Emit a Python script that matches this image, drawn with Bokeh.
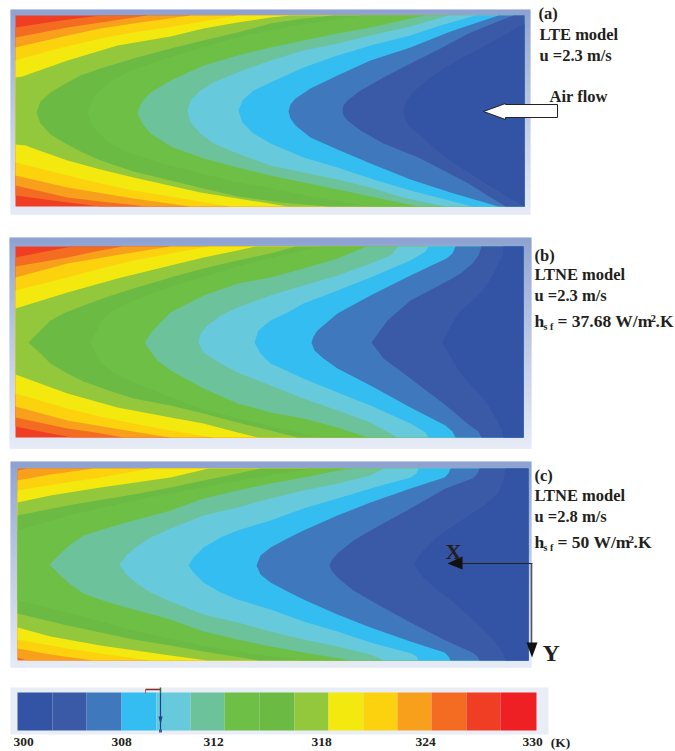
from bokeh.plotting import figure
from bokeh.embed import file_html
from bokeh.resources import INLINE
from bokeh.core.properties import value

# colour scale (temperature bands, coldest first)
band_colors = ["#3353a5", "#3a5aa8", "#3f78bd", "#33bdf0", "#67cadc", "#6cc29a", "#6dbf45", "#6aba44",
               "#93c83c", "#f3e90f", "#fcd20f", "#f8a01c", "#f36c21", "#ef3e23", "#ee2024"]
bar_edges = [17, 52, 86, 121, 156, 190, 224, 259, 294, 328, 363, 397, 431, 466, 500, 536]
tick_labels = ["300", "308", "312", "318", "324", "330", "(K)"]
tick_x = [23, 121, 213, 321, 425, 532, 560]

# Panel (a): isotherms, named by the colder band they enclose
a1_x = [524, 505, 485, 464, 445, 427, 418, 411, 407, 404, 403, 404, 407, 411, 418, 431, 445, 465, 485, 505, 524]
a1_y = [23, 34, 45, 56, 67, 79, 87, 93, 99, 105, 111, 117, 123, 128, 133, 145, 157, 170, 183, 195, 206]
a2_x = [513, 490, 468, 440, 410, 383, 360, 347, 343, 342, 343, 347, 360, 383, 418, 443, 468, 487, 505]
a2_y = [15, 24, 33, 48, 63, 77, 90, 100, 105, 110, 115, 120, 130, 143, 157, 170, 183, 195, 206]
a3_x = [498, 450, 410, 370, 337, 310, 295, 290, 288, 290, 295, 310, 337, 370, 410, 450, 498]
a3_y = [15, 31, 47, 60, 75, 88, 98, 104, 111, 118, 125, 137, 149, 163, 179, 192, 206]
a4_x = [475, 440, 410, 370, 337, 303, 270, 253, 242, 238, 242, 253, 270, 303, 337, 370, 410, 472]
a4_y = [15, 25, 35, 45, 55, 67, 82, 90, 100, 110, 122, 133, 143, 157, 167, 178, 190, 206]
a5_x = [448, 410, 370, 337, 303, 270, 237, 213, 200, 190, 187, 190, 200, 213, 237, 270, 303, 337, 370, 402, 445]
a5_y = [15, 26, 35, 43, 50, 60, 72, 82, 90, 100, 110, 122, 133, 143, 153, 165, 172, 179, 187, 197, 206]
a6_x = [425, 410, 370, 337, 303, 270, 237, 203, 170, 150, 141, 137, 141, 150, 170, 203, 237, 270, 303, 337, 370, 418]
a6_y = [15, 18, 27, 33, 40, 47, 55, 65, 80, 92, 102, 112, 122, 133, 146, 158, 167, 175, 182, 189, 196, 206]
a7_x = [360, 340, 300, 267, 233, 200, 165, 130, 108, 93, 87, 93, 108, 130, 165, 200, 233, 267, 300, 340, 370]
a7_y = [15, 18, 24, 30, 38, 47, 58, 70, 82, 97, 112, 127, 142, 153, 164, 173, 181, 187, 194, 201, 206]
a8_x = [333, 303, 270, 237, 203, 170, 133, 100, 80, 65, 50, 40, 36, 40, 50, 65, 80, 100, 133, 170, 203, 237, 280, 328]
a8_y = [15, 18, 23, 32, 40, 48, 58, 68, 75, 83, 92, 101, 112, 123, 134, 143, 151, 160, 171, 180, 188, 196, 202, 206]
a9_x = [290, 270, 237, 203, 170, 117, 67, 33, 22, 15, 15, 25, 33, 67, 100, 133, 200, 287]
a9_y = [15, 17, 22, 28, 36, 45, 60, 72, 76, 77, 144, 145, 148, 160, 169, 177, 192, 206]
a10_x = [237, 167, 133, 100, 50, 15, 15, 67, 100, 133, 230]
a10_y = [15, 27, 32, 38, 50, 60, 162, 175, 183, 190, 206]
a11_x = [190, 133, 100, 67, 15, 15, 67, 133, 190]
a11_y = [15, 23, 28, 35, 47, 175, 187, 198, 206]
a12_x = [147, 100, 67, 15, 15, 67, 100, 147]
a12_y = [15, 22, 27, 37, 185, 197, 201, 206]
a13_x = [100, 60, 15, 15, 60, 100]
a13_y = [15, 20, 27, 195, 201, 206]

# Panel (b)
b1_x = [503, 502, 498, 491, 482, 470, 458, 450, 442, 450, 458, 470, 482, 491, 498, 502, 503]
b1_y = [246, 255, 263, 277, 290, 302, 313, 326, 342, 356, 370, 384, 397, 410, 423, 431, 437]
b2_x = [481, 478, 472, 460, 448, 410, 387, 371, 383, 410, 448, 462, 472, 478, 481]
b2_y = [246, 255, 263, 273, 280, 300, 320, 342, 358, 378, 407, 419, 427, 431, 437]
b3_x = [455, 452, 446, 410, 370, 337, 317, 313, 311, 314, 323, 337, 370, 410, 445, 452, 455]
b3_y = [246, 253, 258, 275, 295, 313, 330, 336, 342, 350, 358, 368, 385, 407, 425, 431, 437]
b4_x = [428, 425, 410, 370, 337, 303, 287, 270, 258, 254, 260, 270, 303, 337, 370, 410, 425, 428]
b4_y = [246, 251, 260, 277, 290, 303, 312, 320, 330, 342, 353, 363, 378, 392, 405, 423, 432, 437]
b5_x = [398, 390, 370, 337, 303, 270, 237, 220, 207, 200, 198, 203, 220, 237, 270, 303, 337, 370, 397]
b5_y = [246, 255, 263, 275, 285, 295, 307, 315, 325, 333, 342, 352, 363, 372, 385, 398, 410, 422, 437]
b6_x = [366, 337, 303, 270, 237, 203, 170, 157, 150, 144, 150, 157, 170, 203, 237, 270, 303, 337, 367]
b6_y = [246, 258, 268, 277, 283, 295, 312, 325, 333, 342, 351, 360, 370, 388, 403, 412, 418, 427, 437]
b7_x = [320, 267, 233, 200, 165, 133, 112, 100, 90, 100, 112, 133, 165, 200, 233, 267, 320]
b7_y = [246, 258, 267, 277, 288, 300, 310, 322, 342, 362, 372, 382, 395, 408, 417, 425, 437]
b8_x = [295, 270, 237, 203, 170, 133, 108, 83, 65, 50, 40, 28, 40, 50, 65, 83, 108, 133, 170, 203, 237, 270, 297]
b8_y = [246, 253, 260, 268, 277, 288, 296, 305, 312, 320, 330, 342, 353, 363, 372, 381, 390, 398, 405, 413, 422, 430, 437]
b9_x = [255, 237, 203, 170, 117, 67, 15, 15, 67, 117, 170, 203, 237, 258]
b9_y = [246, 250, 257, 265, 278, 292, 308, 374, 393, 407, 417, 423, 432, 437]
b10_x = [208, 170, 133, 100, 67, 15, 15, 67, 100, 133, 170, 213]
b10_y = [246, 253, 260, 268, 277, 290, 393, 408, 416, 423, 430, 437]
b11_x = [170, 120, 67, 15, 15, 67, 120, 170]
b11_y = [246, 254, 263, 277, 406, 420, 429, 437]
b12_x = [122, 95, 67, 15, 15, 67, 95, 123]
b12_y = [246, 251, 257, 266, 417, 428, 432, 437]
b13_x = [72, 45, 15, 15, 45, 72]
b13_y = [246, 251, 257, 426, 432, 437]

# Panel (c)
c1_x = [505, 503, 498, 485, 468, 452, 435, 423, 413, 423, 435, 452, 468, 483, 495, 502, 505]
c1_y = [468, 480, 492, 504, 515, 526, 538, 550, 564, 577, 588, 601, 615, 629, 642, 651, 660]
c2_x = [479, 477, 472, 445, 410, 370, 353, 337, 331, 329, 331, 337, 353, 370, 410, 445, 472, 477, 479]
c2_y = [468, 473, 478, 488, 508, 530, 540, 553, 560, 565, 570, 577, 590, 600, 622, 640, 652, 656, 660]
c3_x = [450, 448, 444, 410, 370, 337, 303, 287, 270, 260, 256, 260, 270, 287, 303, 337, 370, 410, 444, 448, 450]
c3_y = [468, 473, 477, 488, 502, 515, 530, 538, 547, 555, 565, 574, 582, 591, 599, 614, 627, 641, 652, 656, 660]
c4_x = [418, 416, 410, 370, 337, 303, 270, 237, 220, 203, 193, 188, 193, 203, 220, 237, 270, 303, 337, 370, 411, 416, 418]
c4_y = [468, 473, 477, 488, 498, 508, 520, 530, 537, 547, 557, 565, 572, 582, 592, 599, 609, 621, 631, 642, 653, 656, 660]
c5_x = [383, 370, 337, 303, 270, 237, 203, 170, 150, 135, 126, 119, 126, 135, 150, 170, 203, 237, 270, 303, 337, 370, 383]
c5_y = [468, 475, 483, 490, 498, 507, 515, 528, 537, 547, 555, 564, 574, 582, 592, 601, 614, 622, 631, 639, 646, 654, 660]
c6_x = [348, 303, 270, 237, 203, 170, 133, 105, 83, 70, 60, 49, 60, 70, 83, 105, 133, 170, 203, 237, 270, 303, 350]
c6_y = [468, 477, 483, 490, 498, 510, 520, 528, 535, 544, 553, 564, 575, 584, 593, 601, 609, 619, 631, 639, 646, 652, 660]
c7_x = [310, 300, 250, 200, 133, 67, 17, 17, 67, 133, 200, 250, 300]
c7_y = [468, 470, 478, 487, 500, 515, 530, 600, 612, 630, 645, 653, 660]
c8_x = [260, 237, 203, 170, 133, 67, 17, 17, 67, 133, 170, 203, 258]
c8_y = [468, 473, 480, 487, 494, 505, 515, 613, 625, 639, 645, 651, 660]
c9_x = [208, 170, 100, 50, 17, 17, 50, 100, 170, 207]
c9_y = [468, 477, 487, 495, 502, 627, 636, 645, 655, 660]
c10_x = [150, 100, 67, 17, 17, 67, 100, 150]
c10_y = [468, 477, 482, 490, 639, 648, 653, 660]
c11_x = [93, 50, 17, 17, 50, 93]
c11_y = [468, 474, 480, 648, 654, 660]
c12_x = [27, 17, 17, 27]
c12_y = [468, 470, 657, 660]

panel_a = [(a13_x, a13_y), (a12_x, a12_y), (a11_x, a11_y), (a10_x, a10_y), (a9_x, a9_y), (a8_x, a8_y), (a7_x, a7_y),
           (a6_x, a6_y), (a5_x, a5_y), (a4_x, a4_y), (a3_x, a3_y), (a2_x, a2_y), (a1_x, a1_y)]
panel_b = [(b13_x, b13_y), (b12_x, b12_y), (b11_x, b11_y), (b10_x, b10_y), (b9_x, b9_y), (b8_x, b8_y), (b7_x, b7_y),
           (b6_x, b6_y), (b5_x, b5_y), (b4_x, b4_y), (b3_x, b3_y), (b2_x, b2_y), (b1_x, b1_y)]
panel_c = [(c12_x, c12_y), (c11_x, c11_y), (c10_x, c10_y), (c9_x, c9_y), (c8_x, c8_y), (c7_x, c7_y),
           (c6_x, c6_y), (c5_x, c5_y), (c4_x, c4_y), (c3_x, c3_y), (c2_x, c2_y), (c1_x, c1_y)]

W, H = 675, 751
p = figure(width=W, height=H, x_range=(0, W), y_range=(H, 0), output_backend="svg",
           toolbar_location=None, min_border=0, outline_line_color=None, background_fill_color="white")
p.axis.visible = False
p.grid.visible = False


def hex_mix(c0, c1, t):
    a = [int(c0[i:i + 2], 16) for i in (1, 3, 5)]
    b = [int(c1[i:i + 2], 16) for i in (1, 3, 5)]
    return "#%02x%02x%02x" % tuple(round(u + (v - u) * t) for u, v in zip(a, b))


def frame(l, r, t, b):
    n = b - t
    top = [t + i for i in range(n)]
    cols = [hex_mix("#7d95ca", "#e2e8f4", (i / (n - 1)) ** 0.9) for i in range(n)]
    cols[:6] = ["#7f96cb"] * 6
    p.quad(left=[l] * n, right=[r] * n, top=top, bottom=[y + 1.2 for y in top], fill_color=cols, line_color=None)


def contours(curves, l, r, t, b):
    hot = len(curves)
    p.quad(left=[l], right=[r], top=[t], bottom=[b], fill_color=band_colors[hot], line_color=None)
    for i, (xs, ys) in enumerate(curves):
        p.patch(list(xs) + [r, r], list(ys) + [b, t], fill_color=band_colors[hot - 1 - i], line_color=None)


frame(10, 530, 9, 214)
contours(panel_a, 15, 524, 15, 206)
frame(9, 531, 237, 448)
contours(panel_b, 15, 523, 246, 437)
frame(10, 531, 461, 667)
contours(panel_c, 17, 528, 468, 660)

# colour bar
p.quad(left=[10], right=[548], top=[687], bottom=[734], fill_color="#e8edf6", line_color=None)
p.quad(left=bar_edges[:-1], right=bar_edges[1:], top=[692] * 15, bottom=[730] * 15,
       fill_color=band_colors, line_color=None)
p.line([145, 160], [689, 689], line_color="#8c2a2a", line_width=1.5)
p.line([145, 145], [689, 693], line_color="#c0504d", line_width=1)
p.line([160, 160], [687, 692], line_color="#1f7a3a", line_width=1.5)
p.line([160, 160], [692, 730], line_color="#1f3f8f", line_width=1.2)
p.patch([158, 162, 160], [716, 716, 724], fill_color="#1f3f8f", line_color=None)
p.quad(left=[158.5], right=[161.5], top=[729], bottom=[732], fill_color="#3f60b0", line_color=None)

# air-flow arrow
p.patch([557, 557, 505, 505, 483, 505, 505], [104, 117, 117, 119, 111, 103, 104],
        fill_color="white", line_color="#222222", line_width=1)

# axes triad on panel (c)
p.line([532, 458], [563, 563], line_color="#222222", line_width=1)
p.patch([447, 462, 462], [563, 556, 569], fill_color="#111111", line_color=None)
p.line([531, 531], [563, 645], line_color="#555555", line_width=1.6)
p.patch([526, 537, 531.5], [642, 642, 657], fill_color="#111111", line_color=None)


def txt(x, y, s, size=16.5, align="left", color="#231f20"):
    p.text([x], [y - 0.4 * size], text=[s], text_font=value("Liberation Serif"), text_font_style="bold",
           text_font_size=f"{size}px", text_color=color, text_align=align, text_baseline="alphabetic")


txt(538, 20, "(a)")
txt(539, 41, "LTE model")
txt(539, 62, "u =2.3 m/s")
txt(549, 103, "Air flow")

txt(534, 262, "(b)")
txt(534, 281, "LTNE model")
txt(534, 302, "u =2.3 m/s")
txt(534, 327, "h", 17.5)
txt(543, 330, "s f", 10)
txt(557, 327, "= 37.68 W/m", 17.5)
txt(650, 322, "2", 11)
txt(655, 327, ".K", 17.5)

txt(534, 482, "(c)")
txt(534, 502, "LTNE model")
txt(534, 523, "u =2.8 m/s")
txt(534, 548, "h", 17.5)
txt(543, 551, "s f", 10)
txt(557, 548, "= 50 W/m", 17.5)
txt(628, 543, "2", 11)
txt(633, 548, ".K", 17.5)

txt(445, 560, "X", 22)
txt(542, 662, "Y", 24)

for x, s in zip(tick_x, tick_labels):
    txt(x, 747, s, 13.5, "center")

open("out.html", "w").write(file_html(p, INLINE))
